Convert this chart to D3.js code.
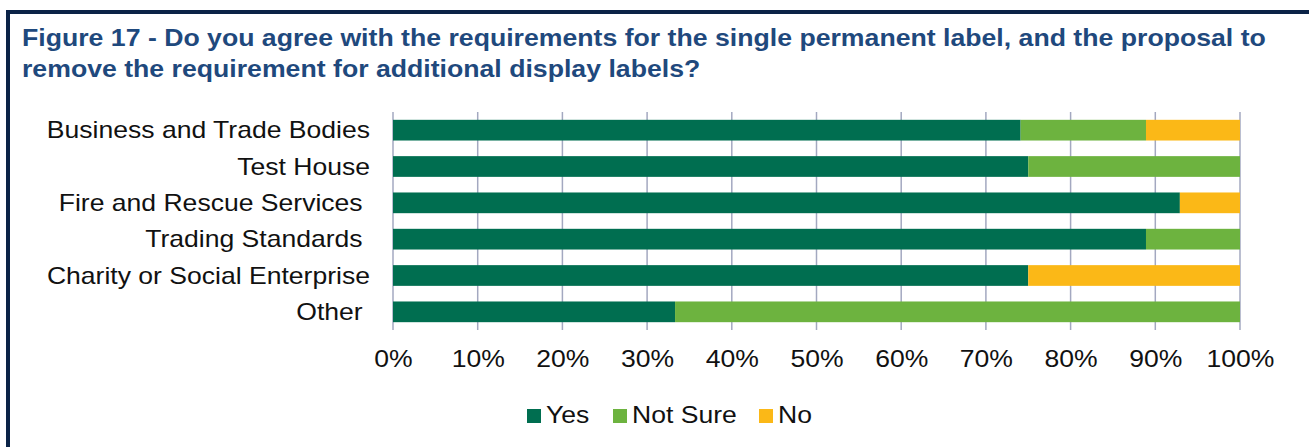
<!DOCTYPE html>
<html>
<head>
<meta charset="utf-8">
<script src="https://cdn.jsdelivr.net/npm/d3@7"></script>
<style>
  body { margin: 0; background: #fff; }
  text { font-family: "Liberation Sans", Arial, sans-serif; }
</style>
</head>
<body>
<div id="chart"></div>
<script>
// chart data
var categories = ["Business and Trade Bodies", "Test House", "Fire and Rescue Services ",
  "Trading Standards ", "Charity or Social Enterprise", "Other "];
var seriesNames = ["Yes", "Not Sure", "No"];
var yesValues = [74.1, 75, 92.9, 88.9, 75, 33.3];
var notSureValues = [14.8, 25, 0, 11.1, 0, 66.7];
var noValues = [11.1, 0, 7.1, 0, 25, 0];
var tickValues = [0, 10, 20, 30, 40, 50, 60, 70, 80, 90, 100];
var titleLines = ["Figure 17 - Do you agree with the requirements for the single permanent label, and the proposal to",
  "remove the requirement for additional display labels?"];

var colors = ["#006e50", "#6db33f", "#fbb817"];

var w = 1309, h = 447;
var margin = { top: 112, left: 393, right: 69, bottom: 117 };
var stretch = 1.155; // source text is a bit wide

var svg = d3.select("#chart").append("svg")
  .attr("width", w)
  .attr("height", h);

// frame
svg.append("path")
  .attr("d", "M8,447 V12 H1309")
  .attr("fill", "none")
  .attr("stroke", "#0b2347")
  .attr("stroke-width", 4);

// title
svg.append("g").selectAll("text")
  .data(titleLines)
  .enter()
  .append("text")
  .attr("transform", function (d, i) { return "translate(22," + (46 + i * 31) + ") scale(1.088,1)"; })
  .attr("font-size", "24.5px")
  .attr("font-weight", "bold")
  .attr("fill", "#1f497d")
  .text(function (d) { return d; });

var x = d3.scaleLinear().domain([0, 100]).range([margin.left, w - margin.right]);
var y = d3.scaleBand().domain(categories).range([margin.top, h - margin.bottom]).paddingInner(0.43).paddingOuter(0.215);

// gridlines
svg.append("g").selectAll("line")
  .data(tickValues)
  .enter()
  .append("line")
  .attr("x1", function (d) { return x(d); })
  .attr("x2", function (d) { return x(d); })
  .attr("y1", margin.top)
  .attr("y2", h - margin.bottom)
  .attr("stroke", "#a3a8c0")
  .attr("stroke-width", 1.5);

// stacked bars
var rows = categories.map(function (c, i) {
  return { cat: c, Yes: yesValues[i], "Not Sure": notSureValues[i], No: noValues[i] };
});
var stacked = d3.stack().keys(seriesNames)(rows);

svg.append("g").selectAll("g")
  .data(stacked)
  .enter()
  .append("g")
  .attr("fill", function (d, i) { return colors[i]; })
  .selectAll("rect")
  .data(function (d) { return d; })
  .enter()
  .append("rect")
  .attr("x", function (d) { return x(d[0]); })
  .attr("width", function (d) { return x(d[1]) - x(d[0]); })
  .attr("y", function (d) { return y(d.data.cat); })
  .attr("height", y.bandwidth());

// category labels
svg.append("g").selectAll("text")
  .data(categories)
  .enter()
  .append("text")
  .attr("transform", function (d) {
    return "translate(370," + (y(d) + y.bandwidth() / 2) + ") scale(" + stretch + ",1)";
  })
  .attr("dy", "0.36em")
  .attr("text-anchor", "end")
  .attr("font-size", "23px")
  .attr("fill", "#111")
  .style("white-space", "pre")
  .text(function (d) { return d; });

// x axis labels
var xAxis = svg.append("g")
  .attr("transform", "translate(0," + (h - margin.bottom) + ")")
  .call(d3.axisBottom(x).tickValues(tickValues).tickSize(0).tickPadding(21)
    .tickFormat(function (d) { return d + "%"; }));
xAxis.select(".domain").remove();
xAxis.selectAll("text")
  .attr("font-size", "23px")
  .attr("font-family", "Liberation Sans, Arial, sans-serif")
  .attr("fill", "#111")
  .attr("transform", "scale(" + stretch + ",1)");

// legend
var legendX = [527, 613, 759];
var legend = svg.append("g").selectAll("g")
  .data(seriesNames)
  .enter()
  .append("g")
  .attr("transform", function (d, i) { return "translate(" + legendX[i] + ",409)"; });
legend.append("rect")
  .attr("width", 14)
  .attr("height", 14)
  .attr("fill", function (d, i) { return colors[i]; });
legend.append("text")
  .attr("transform", "translate(19,14) scale(" + stretch + ",1)")
  .attr("font-size", "23px")
  .attr("fill", "#111")
  .text(function (d) { return d; });
</script>
</body>
</html>
